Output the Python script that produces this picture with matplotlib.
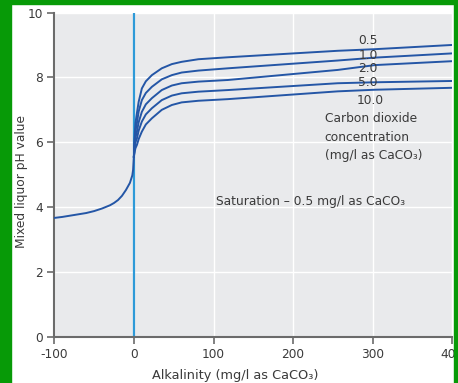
import numpy as np
import matplotlib
matplotlib.use("Agg")
import matplotlib.pyplot as plt
from matplotlib.patches import Rectangle

plt.rcParams['font.family'] = ['DejaVu Sans']
plt.rcParams['axes.unicode_minus'] = False

# acid side of the curve (shared by all CO2 levels)
acid_x = [-100, -90, -75, -60, -50, -40, -30, -25, -20, -15, -10, -5, -2, -1, 0]
acid_ph = [3.67, 3.70, 3.76, 3.82, 3.88, 3.96, 4.06, 4.13, 4.22, 4.35, 4.53, 4.75, 4.98, 5.15, 5.56]

# alkaline side, one curve per CO2 concentration (mg/l as CaCO3)
alk_x = [0, 1, 2, 3.8, 6, 10, 15, 22.6, 35, 47.7, 60, 81, 118, 256, 303, 400]
co2_labels = ["0.5", "1.0", "2.0", "5.0", "10.0"]
ph_05 = [5.56, 6.25, 6.60, 6.90, 7.25, 7.66, 7.88, 8.07, 8.28, 8.41, 8.48, 8.56, 8.62, 8.82, 8.87, 9.00]
ph_10 = [5.56, 6.10, 6.35, 6.60, 6.95, 7.30, 7.52, 7.71, 7.94, 8.07, 8.15, 8.21, 8.28, 8.52, 8.61, 8.74]
ph_20 = [5.56, 5.95, 6.15, 6.33, 6.62, 6.94, 7.17, 7.36, 7.61, 7.75, 7.82, 7.87, 7.92, 8.23, 8.38, 8.50]
ph_50 = [5.56, 5.85, 6.00, 6.12, 6.36, 6.64, 6.86, 7.05, 7.30, 7.44, 7.51, 7.56, 7.61, 7.82, 7.85, 7.89]
ph_100 = [5.56, 5.72, 5.82, 5.92, 6.10, 6.33, 6.55, 6.74, 7.00, 7.15, 7.23, 7.28, 7.33, 7.57, 7.62, 7.68]
curves = [ph_05, ph_10, ph_20, ph_50, ph_100]

# where the CO2 value labels sit
label_x = [294, 294, 294, 294, 297]
label_y = [9.13, 8.69, 8.26, 7.84, 7.28]

txt = "#3a3a3a"
line_col = "#2456a6"

fig = plt.figure(figsize=(4.58, 3.83), dpi=100, facecolor="white")
ax = fig.add_axes([54.3/458, 46/383, 398/458, 324.5/383])
ax.set_facecolor("#e9eaec")

ax.grid(True, color="white", lw=1)
ax.set_axisbelow(True)

ax.axvline(0, color="#2e9ad8", lw=1.6, zorder=2)
ax.plot(acid_x, acid_ph, color=line_col, lw=1.4, zorder=3)
for ph in curves:
    ax.plot(alk_x, ph, color=line_col, lw=1.4, zorder=3)

for lab, x, y in zip(co2_labels, label_x, label_y):
    ax.text(x, y, lab, ha="center", va="center", fontsize=8.8, color=txt)

ax.text(239.6, 6.74, "Carbon dioxide", fontsize=8.8, color=txt, va="center")
ax.text(239.6, 6.16, "concentration", fontsize=8.8, color=txt, va="center")
ax.text(239.6, 5.58, "(mg/l as CaCO₃)", fontsize=8.8, color=txt, va="center")
ax.text(103.4, 4.17, "Saturation – 0.5 mg/l as CaCO₃", fontsize=8.8, color=txt, va="center")

ax.set_xlim(-100, 400)
ax.set_ylim(0, 10)
ax.set_xticks([-100, 0, 100, 200, 300, 400])
ax.set_yticks([0, 2, 4, 6, 8, 10])
for s in ["top", "right"]:
    ax.spines[s].set_visible(False)
for s in ["left", "bottom"]:
    ax.spines[s].set_color("#6b6b6b")
    ax.spines[s].set_linewidth(1.5)
ax.tick_params(colors="#6b6b6b", labelcolor=txt, labelsize=8.7, length=5, width=1.2, pad=3)

ax.set_xlabel("Alkalinity (mg/l as CaCO₃)", fontsize=9.3, color=txt)
ax.set_ylabel("Mixed liquor pH value", fontsize=8.8, color=txt)
ax.xaxis.set_label_coords(0.454, -0.120)
ax.xaxis.label.set_va("center")
ax.yaxis.set_label_coords(-0.083, 0.478)
ax.yaxis.label.set_va("center")

# green frame round the picture
green = "#079a07"
fig.patches.append(Rectangle((0, 0), 11/458, 1, transform=fig.transFigure, color=green, zorder=10))
fig.patches.append(Rectangle((0, 379/383), 1, 4/383, transform=fig.transFigure, color=green, zorder=10))
fig.patches.append(Rectangle((454/458, 0), 4/458, 1, transform=fig.transFigure, color=green, zorder=10))

fig.savefig("out.png", dpi=100, facecolor="white")
